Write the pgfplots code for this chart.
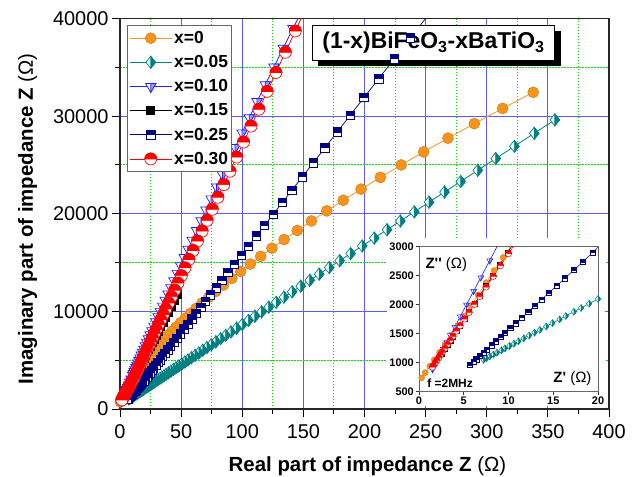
\documentclass[border=0pt]{standalone}
\usepackage{fontspec}
\setmainfont{Liberation Sans}
\usepackage{pgfplots}
\usepackage{pgfplotstable}
\pgfplotsset{compat=1.18}
\usetikzlibrary{shadows}

\definecolor{orangec}{RGB}{248,148,30}
\definecolor{tealc}{RGB}{0,128,128}
\definecolor{bluec}{RGB}{30,30,255}
\definecolor{navyc}{RGB}{0,0,128}
\definecolor{redc}{RGB}{255,0,0}
\definecolor{gridblue}{RGB}{90,90,255}
\definecolor{gridgreen}{RGB}{0,225,0}

% half filled marks
\pgfdeclareplotmark{hsq}{%
  \pgfpathrectangle{\pgfqpoint{-\pgfplotmarksize}{-\pgfplotmarksize}}{\pgfqpoint{2\pgfplotmarksize}{2\pgfplotmarksize}}%
  \pgfsetfillcolor{white}\pgfusepathqfillstroke
  \pgfpathrectangle{\pgfqpoint{-\pgfplotmarksize}{0pt}}{\pgfqpoint{2\pgfplotmarksize}{\pgfplotmarksize}}%
  \pgfsetfillcolor{navyc}\pgfusepathqfillstroke
}
\pgfdeclareplotmark{hcirc}{%
  \pgfpathcircle{\pgfpointorigin}{\pgfplotmarksize}%
  \pgfsetfillcolor{white}\pgfusepathqfillstroke
  \pgfpathmoveto{\pgfqpoint{\pgfplotmarksize}{0pt}}%
  \pgfpatharc{0}{180}{\pgfplotmarksize}%
  \pgfpathclose
  \pgfsetfillcolor{redc}\pgfusepathqfillstroke
}
\pgfdeclareplotmark{hdia}{%
  \pgfpathmoveto{\pgfqpoint{0pt}{\pgfplotmarksize}}%
  \pgfpathlineto{\pgfqpoint{0.8\pgfplotmarksize}{0pt}}%
  \pgfpathlineto{\pgfqpoint{0pt}{-\pgfplotmarksize}}%
  \pgfpathlineto{\pgfqpoint{-0.8\pgfplotmarksize}{0pt}}%
  \pgfpathclose
  \pgfsetfillcolor{white}\pgfusepathqfillstroke
  \pgfpathmoveto{\pgfqpoint{0pt}{\pgfplotmarksize}}%
  \pgfpathlineto{\pgfqpoint{0.8\pgfplotmarksize}{0pt}}%
  \pgfpathlineto{\pgfqpoint{0pt}{-\pgfplotmarksize}}%
  \pgfpathclose
  \pgfsetfillcolor{tealc}\pgfusepathqfillstroke
}
\pgfdeclareplotmark{htri}{%
  \pgfpathmoveto{\pgfqpoint{0pt}{-\pgfplotmarksize}}%
  \pgfpathlineto{\pgfqpoint{0.866\pgfplotmarksize}{0.5\pgfplotmarksize}}%
  \pgfpathlineto{\pgfqpoint{-0.866\pgfplotmarksize}{0.5\pgfplotmarksize}}%
  \pgfpathclose
  \pgfsetfillcolor{white}\pgfusepathqfillstroke
  \pgfpathmoveto{\pgfqpoint{0pt}{-\pgfplotmarksize}}%
  \pgfpathlineto{\pgfqpoint{0.866\pgfplotmarksize}{0.5\pgfplotmarksize}}%
  \pgfpathlineto{\pgfqpoint{0pt}{0.5\pgfplotmarksize}}%
  \pgfpathclose
  \pgfsetfillcolor{bluec!45}\pgfusepathqfillstroke
}

% x = 0
\pgfplotstableread{
x y
338 32445
313.0 30797
289.8 29235
268.3 27750
248.4 26341
230.0 25004
213.0 23734
197.2 22530
182.6 21385
169.1 20300
156.6 19268
145.0 18290
134.2 17361
124.3 16480
115.1 15643
106.6 14849
98.7 14095
91.4 13379
84.6 12700
78.3 12055
72.5 11443
67.1 10863
62.2 10311
57.6 9788
53.3 9291
49.4 8819
45.7 8371
42.3 7946
39.2 7543
36.3 7159
33.6 6796
31.1 6451
28.8 6123
26.7 5812
24.7 5517
22.9 5237
21.2 4971
19.6 4718
18.1 4479
16.8 4251
15.6 4036
14.4 3831
13.3 3636
12.4 3451
11.4 3276
10.4 3040
9.4 2815
8.4 2590
7.5 2380
6.6 2170
5.8 1985
5.0 1800
4.3 1640
3.6 1480
2.9 1320
2.3 1180
1.7 1050
1.2 940
0.7 830
0.3 740
}\tOrange

% x = 0.05
\pgfplotstableread{
x y
355.7 29627
338.8 28242
322.6 26913
307.3 25659
292.6 24453
278.7 23313
265.4 22223
252.8 21190
240.7 20197
229.3 19263
218.4 18369
208.0 17516
198.1 16704
188.6 15925
179.7 15195
171.1 14490
162.9 13818
155.2 13186
147.8 12580
140.8 12006
134.1 11456
127.7 10931
121.6 10431
115.8 9956
110.3 9505
105.0 9070
100.0 8660
95.3 8275
90.7 7897
86.4 7545
82.3 7209
78.4 6889
74.6 6577
71.1 6290
67.7 6011
64.5 5749
61.4 5495
58.5 5257
55.7 5027
53.1 4814
50.5 4601
48.1 4404
45.8 4216
43.6 4035
41.6 3871
39.6 3707
37.7 3551
35.9 3404
34.2 3264
32.6 3133
31.0 3002
29.5 2879
28.1 2764
26.8 2658
25.5 2551
24.3 2453
23.1 2354
22.0 2264
21.0 2182
20.0 2100
19.0 2018
18.1 1944
17.3 1879
16.4 1805
15.7 1747
14.9 1682
14.2 1624
13.5 1567
12.9 1518
12.3 1469
11.7 1419
11.1 1370
10.6 1329
10.1 1288
9.6 1247
9.2 1214
8.7 1173
8.3 1141
7.9 1108
7.5 1075
7.2 1050
}\tTeal

% x = 0.10
\pgfplotstableread{
x y
150 41090
141.5 38979
133.5 36971
125.9 35045
118.8 33228
112.1 31499
105.7 29834
99.8 28287
94.1 26783
88.8 25374
83.8 24037
79.0 22746
74.5 21530
70.3 20388
66.3 19296
62.6 18280
59.0 17288
55.7 16376
52.6 15514
49.6 14678
46.8 13896
44.1 13139
41.6 12435
39.3 11787
37.0 11136
34.9 10541
33.0 10001
31.1 9460
29.3 8947
27.7 8489
26.1 8031
24.6 7600
23.2 7198
21.9 6824
20.7 6478
19.5 6132
18.4 5814
17.4 5525
16.4 5235
15.5 4975
14.6 4713
13.8 4481
13.0 4248
12.2 4015
11.6 3840
10.9 3637
10.3 3462
9.0 3082
7.9 2761
6.9 2468
6.1 2234
5.3 2000
4.6 1794
4.0 1617
3.5 1471
3.1 1353
2.7 1236
2.3 1118
2.0 1030
1.7 942
1.5 883
}\tBlue

% x = 0.15
\pgfplotstableread{
x y
47.0 11729
44.3 11086
41.8 10491
39.5 9944
37.2 9397
35.1 8897
33.1 8421
31.3 7992
29.5 7564
27.8 7159
26.2 6779
24.8 6445
23.4 6112
22.0 5779
20.8 5493
19.6 5208
18.5 4946
17.5 4708
16.5 4470
15.5 4232
14.7 4042
13.8 3827
13.0 3637
12.3 3470
11.6 3304
10.9 3137
9.9 2899
9.0 2685
8.2 2495
7.5 2328
6.8 2161
6.2 2019
5.6 1876
5.1 1757
4.6 1638
4.2 1543
3.8 1447
3.5 1376
3.2 1305
2.9 1233
2.6 1162
}\tBlack

% x = 0.25
\pgfplotstableread{
x y
252.0 40346
237.7 38043
224.3 35886
211.6 33841
199.6 31909
188.3 30090
177.7 28383
167.6 26757
158.1 25228
149.2 23795
140.7 22426
132.8 21154
125.2 19931
118.1 18788
111.5 17725
105.1 16695
99.2 15745
93.6 14843
88.3 13990
83.3 13185
78.6 12428
74.1 11704
69.9 11028
66.0 10400
62.2 9788
58.7 9224
55.4 8693
52.3 8194
49.3 7711
46.5 7260
43.9 6842
41.4 6439
39.0 6053
36.8 5698
34.8 5376
32.8 5054
30.9 4749
29.2 4475
27.5 4201
26.0 3960
24.5 3718
23.1 3493
21.8 3283
20.6 3090
19.4 2897
18.3 2738
17.3 2597
16.3 2456
15.4 2329
14.5 2203
13.7 2090
12.9 1977
12.2 1878
11.5 1780
10.8 1681
10.2 1596
9.6 1512
9.1 1441
8.6 1371
8.1 1300
7.6 1230
7.2 1173
6.8 1117
6.4 1060
6.1 1018
5.7 962
}\tNavy

% x = 0.30
\pgfplotstableread{
x y
152 41039
143.4 38726
135.3 36547
127.6 34475
120.4 32539
113.6 30709
107.2 28988
101.1 27347
95.4 25814
90.0 24361
84.9 22989
80.1 21698
75.5 20461
71.3 19331
67.2 18228
63.4 17206
59.8 16237
56.4 15323
53.2 14462
50.2 13655
47.4 12902
44.7 12175
42.2 11503
39.8 10857
37.5 10239
35.4 9674
33.4 9136
31.5 8625
29.7 8140
28.1 7710
26.5 7280
25.0 6876
23.6 6499
22.2 6123
21.0 5800
19.8 5477
18.7 5181
17.6 4885
16.6 4616
15.7 4374
14.8 4132
13.9 3890
13.2 3702
12.4 3487
11.7 3298
11.0 3110
10.0 2880
9.1 2673
8.3 2489
7.5 2305
6.8 2144
6.2 2006
5.6 1868
5.1 1753
4.6 1638
4.2 1546
3.8 1454
3.5 1385
3.2 1316
2.9 1247
2.6 1178
2.4 1132
2.2 1086
2.0 1040
1.8 994
1.6 948
1.5 925
}\tRed

\begin{document}
\begin{tikzpicture}
\begin{axis}[
  at={(120bp,68bp)}, anchor=south west,
  width=489bp, height=390.4bp, scale only axis,
  xmin=0, xmax=400, ymin=0, ymax=40000,
  xtick={0,50,...,400}, ytick={0,10000,...,40000},
  minor x tick num=1, minor y tick num=1,
  xtick pos=left, ytick pos=left,
  tick align=outside,
  major tick length=8bp, minor tick length=5bp,
  tick style={black, line width=1bp},
  grid=both,
  major grid style={gridblue, line width=0.8bp, solid},
  minor grid style={gridgreen, line width=1bp, dash pattern=on 1.5bp off 1.5bp},
  axis line style={black!85, line width=1.3bp},
  scaled y ticks=false,
  ticklabel style={font=\fontsize{20}{24}\selectfont},
  xticklabel style={yshift=-4bp},
  /pgf/number format/assume math mode=true,
  /pgf/number format/1000 sep={},
  xlabel={\textbf{Real part of impedance Z} (Ω)},
  ylabel={\textbf{Imaginary part of impedance Z} (Ω)},
  label style={font=\fontsize{20.5}{24}\selectfont},
  xlabel style={at={(axis description cs:0.506,0)}, anchor=base, yshift=-62bp},
  ylabel style={at={(axis description cs:-0.178,0.487)}, anchor=base},
  legend style={at={(0.014,0.984)}, anchor=north west, draw=black!60,
    line width=1bp, fill=white, font=\bfseries\fontsize{17.5}{20}\selectfont,
    row sep=6.5bp, inner xsep=2bp, inner ysep=4bp},
  legend cell align=left,
  legend image code/.code={\draw[mark repeat=2,mark phase=2] plot coordinates {(0bp,0bp) (21bp,0bp) (42bp,0bp)};},
]
  \addplot[color=orangec, line width=0.8bp, mark=*, mark size=5.5bp,
    mark options={fill=orangec, draw=orangec!85!black, line width=0.5bp}] table[x=x,y=y]{\tOrange};
  \addlegendentry{x=0}
  \addplot[color=tealc, line width=0.8bp, mark=hdia, mark size=6bp,
    mark options={line width=0.7bp}] table[x=x,y=y]{\tTeal};
  \addlegendentry{x=0.05}
  \addplot[color=bluec, line width=0.8bp, mark=htri, mark size=6bp,
    mark options={line width=0.7bp}] table[x=x,y=y]{\tBlue};
  \addlegendentry{x=0.10}
  \addplot[color=black, line width=0.8bp, mark=square*, mark size=4bp] table[x=x,y=y]{\tBlack};
  \addlegendentry{x=0.15}
  \addplot[color=navyc, line width=0.7bp, mark=hsq, mark size=4.2bp,
    mark options={line width=0.7bp}] table[x=x,y=y]{\tNavy};
  \addlegendentry{x=0.25}
  \addplot[color=redc, line width=0.8bp, mark=hcirc, mark size=6bp,
    mark options={line width=0.7bp}] table[x=x,y=y]{\tRed};
  \addlegendentry{x=0.30}

  \node[draw=black, line width=0.8bp, fill=white,
    drop shadow={shadow xshift=6bp, shadow yshift=-6bp, fill=black, opacity=1},
    inner xsep=10bp, inner ysep=3bp, minimum height=35bp,
    font=\bfseries\fontsize{23}{27}\selectfont]
    at (axis description cs:0.641,0.939)
    {(1-x)BiFeO\textsubscript{3}-xBaTiO\textsubscript{3}};
\end{axis}

% white area behind the inset and its labels
\fill[white] (387bp,71bp) rectangle (605bp,239bp);

\begin{axis}[
  at={(419bp,85.3bp)}, anchor=south west,
  width=179bp, height=145bp, scale only axis,
  xmin=0, xmax=20, ymin=500, ymax=3000,
  xtick={0,5,...,20}, ytick={500,1000,...,3000},
  xtick pos=left, ytick pos=left, tick align=outside,
  major tick length=3.5bp,
  tick style={black!80, line width=0.7bp},
  axis line style={black!60, line width=0.9bp},
  axis background/.style={fill=white},
  ticklabel style={font=\bfseries\fontsize{11}{13}\selectfont, inner sep=1.5bp},
  /pgf/number format/assume math mode=true,
  /pgf/number format/1000 sep={},
  scaled y ticks=false,
]
  \addplot[color=orangec, line width=0.6bp, mark=*, mark size=3bp,
    mark options={fill=orangec, draw=orangec!85!black, line width=0.4bp}] table[x=x,y=y]{\tOrange};
  \addplot[color=tealc, line width=0.6bp, mark=hdia, mark size=3.3bp,
    mark options={line width=0.5bp}] table[x=x,y=y]{\tTeal};
  \addplot[color=bluec, line width=0.6bp, mark=htri, mark size=3.3bp,
    mark options={line width=0.5bp}] table[x=x,y=y]{\tBlue};
  \addplot[color=black, line width=0.6bp, mark=square*, mark size=2.5bp] table[x=x,y=y]{\tBlack};
  \addplot[color=navyc, line width=0.5bp, mark=hsq, mark size=2.6bp,
    mark options={line width=0.5bp}] table[x=x,y=y]{\tNavy};
  \addplot[color=redc, line width=0.6bp, mark=hcirc, mark size=3.2bp,
    mark options={line width=0.5bp}] table[x=x,y=y]{\tRed};

  \node[anchor=north west, inner sep=1bp, font=\fontsize{15}{18}\selectfont]
    at (rel axis cs:0.03,0.93) {\textbf{Z\textquotesingle\textquotesingle} (Ω)};
  \node[anchor=south east, inner sep=1bp, font=\fontsize{15}{18}\selectfont]
    at (rel axis cs:0.97,0.035) {\textbf{Z\textquotesingle} (Ω)};
  \node[anchor=south west, inner sep=1bp, font=\bfseries\fontsize{12}{14}\selectfont]
    at (rel axis cs:0.04,0.02) {f =2MHz};
\end{axis}

\pgfresetboundingbox
\path[use as bounding box] (0,0) rectangle (633bp,477bp);
\end{tikzpicture}
\end{document}
